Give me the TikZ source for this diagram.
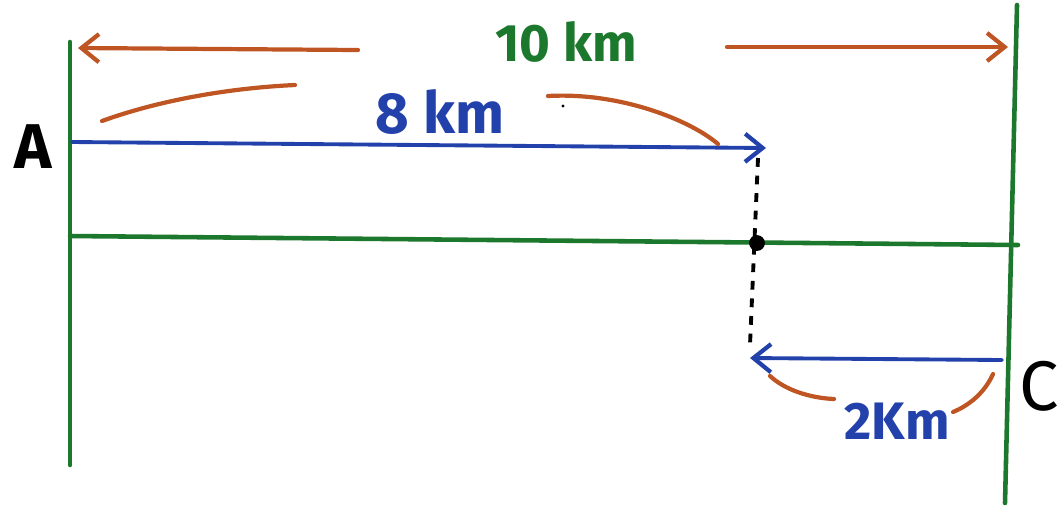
\documentclass[tikz,border=0pt]{standalone}
\usepackage{fontspec}
\setmainfont{Fira Sans}
\usetikzlibrary{arrows.meta}
\definecolor{pgreen}{RGB}{28,120,45}
\definecolor{porange}{RGB}{190,85,35}
\definecolor{pblue}{RGB}{35,65,170}
\tikzset{
  gline/.style={draw=pgreen,line width=2.6pt,line cap=round},
  oline/.style={draw=porange,line width=2.4pt,line cap=round},
  bline/.style={draw=pblue,line width=2.2pt,line cap=round},
  openhead/.style={-{Straight Barb[length=10pt,width=16pt,line width=2.4pt]}},
  lbl/.style={font=\fontsize{36}{36}\selectfont\bfseries,inner sep=0pt},
  dim/.style={font=\fontsize{30}{30}\selectfont\bfseries,inner sep=0pt}
}
\begin{document}
\begin{tikzpicture}[x=0.02cm,y=-0.02cm]
\useasboundingbox (0,0) rectangle (1061,508);
% frame coordinates
\coordinate (Ltop) at (70,42);
\coordinate (Lbot) at (70,465);
\coordinate (Rtop) at (1017,5);
\coordinate (Rbot) at (1005,503);
\coordinate (Hl) at (70,236);
\coordinate (Hr) at (1018,245);
\draw[gline] (Ltop) -- (Lbot);
\draw[gline] (Rtop) -- (Rbot);
\draw[gline] (Hl) -- (Hr);
% 10 km dimension
\coordinate (o1s) at (358,50);
\coordinate (o1e) at (78,48);
\coordinate (o2s) at (727,47);
\coordinate (o2e) at (1008,47);
\draw[oline,openhead] (o1s) -- (o1e);
\draw[oline,openhead] (o2s) -- (o2e);
\node[dim,text=pgreen] (ten) at (566,42) {10 km};
% 8 km
\coordinate (a8s) at (72,142);
\coordinate (a8e) at (766,148);
\draw[bline,openhead] (a8s) -- (a8e);
\coordinate (c1s) at (102,121);
\coordinate (c1e) at (295,85);
\draw[oline] (c1s) .. controls (160,100) and (230,88) .. (c1e);
\coordinate (c2s) at (548,96);
\coordinate (c2e) at (718,144);
\draw[oline] (c2s) .. controls (620,92) and (690,120) .. (c2e);
\node[dim,text=pblue,font=\fontsize{33}{33}\selectfont\bfseries] (eight) at (440,112) {8 km};
\fill (563,106) circle (1.6);
% labels
\node[lbl] (A) at (33,147) {A};
\node[lbl,anchor=east,font=\fontsize{40}{40}\selectfont] (C) at (1059,386) {C};
% point and dotted drop
\coordinate (top) at (758,158);
\node[circle,fill=black,inner sep=0pt,minimum size=9pt] (P) at (757,243) {};
\coordinate (bot) at (750,345);
\draw[line width=2.2pt,dash pattern=on 5pt off 5pt] (top) -- (bot);
% 2 km
\coordinate (a2s) at (1002,360);
\coordinate (a2e) at (750,358);
\draw[bline,openhead] (a2s) -- (a2e);
\coordinate (c3s) at (770,376);
\coordinate (c3e) at (834,399);
\draw[oline] (c3s) .. controls (785,390) and (810,398) .. (c3e);
\coordinate (c4s) at (993,374);
\coordinate (c4e) at (953,412);
\draw[oline] (c4s) .. controls (985,392) and (970,405) .. (c4e);
\node[dim,text=pblue] (two) at (897,421) {2Km};
\end{tikzpicture}
\end{document}
